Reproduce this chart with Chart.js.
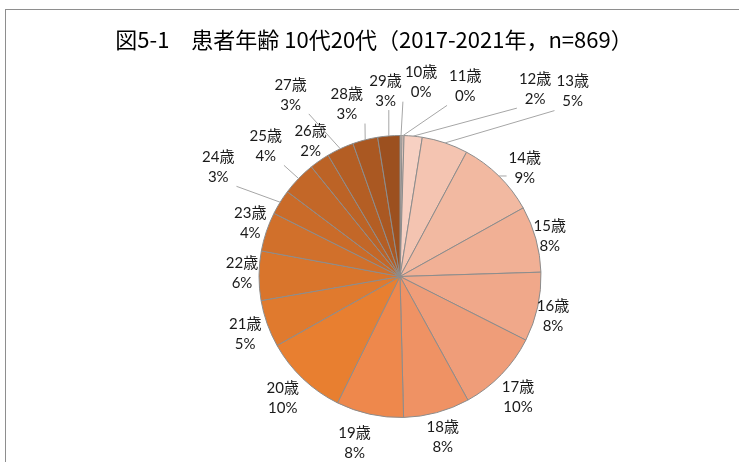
<!DOCTYPE html>
<html lang="ja">
<head>
<meta charset="utf-8">
<title>患者年齢 10代20代</title>
<script src="https://cdn.jsdelivr.net/npm/chart.js@4.4.1/dist/chart.umd.min.js"></script>
<style>
  html, body { margin: 0; padding: 0; background: #fff; }
  #wrap { position: relative; width: 739px; height: 462px; overflow: hidden; }
  #frame { position: absolute; left: 5px; top: 9px; width: 800px; height: 500px; border: 1px solid #8e8e8e; }
  #chartContainer { position: absolute; left: 0; top: 0; }
</style>
</head>
<body>
<div id="wrap">
  <div id="frame"></div>
  <canvas id="chartContainer" width="739" height="462"></canvas>
</div>
<script>
"use strict";

// 1: data
const chartTitle = '図5-1　患者年齢 10代20代（2017-2021年，n=869）';
const ages = ['10歳', '11歳', '12歳', '13歳', '14歳', '15歳', '16歳', '17歳', '18歳', '19歳',
              '20歳', '21歳', '22歳', '23歳', '24歳', '25歳', '26歳', '27歳', '28歳', '29歳'];
const patients = [2, 2, 18, 46, 79, 66, 69, 83, 66, 67,
                  83, 47, 49, 39, 25, 34, 20, 27, 25, 22];

// 2: styles
const sliceColors = ['#fae0d6', '#f8d8cc', '#f7d0c2', '#f4c4b1', '#f2b9a1', '#f1b095', '#f0a88a', '#ef9d79', '#ef9264', '#ee884c',
                     '#e87f30', '#e07a2e', '#d9752c', '#d1702b', '#ca6b29', '#c36728', '#bc6326', '#b45e24', '#aa5822', '#9c501f'];

// label placement: [angle shift (deg), distance outside the pie (px), leader line]
const labelPlacement = [
  [5.8, 54, true], [17.7, 60, true], [30.4, 90, true], [24.4, 112, true], [4.6, 24, true],
  [0.5, 14, false], [1.9, 17, false], [1.7, 28, false], [0.2, 25, false], [2.8, 32, false],
  [0.4, 28, false], [-0.7, 24, false], [0.9, 17, false], [1.1, 18, false], [-0.8, 71, true],
  [0.1, 46, true], [1.3, 21, false], [-6, 71, true], [-2.9, 39, true], [0.1, 45, true]
];

// 3: labels + title
const pieLabels = {
  id: 'pieLabels',
  afterDraw(chart) {
    const ctx = chart.ctx;
    const meta = chart.getDatasetMeta(0);
    const total = patients.reduce((a, b) => a + b, 0);
    ctx.save();

    ctx.font = '22px "Noto Sans CJK JP"';
    ctx.fillStyle = '#000';
    ctx.textAlign = 'center';
    ctx.textBaseline = 'middle';
    ctx.fillText(chartTitle, 374, 40);

    ctx.font = '15px Lato, "Noto Sans CJK JP"';
    meta.data.forEach((arc, i) => {
      const p = arc.getProps(['x', 'y', 'startAngle', 'endAngle', 'outerRadius'], true);
      const mid = (p.startAngle + p.endAngle) / 2;
      const [shift, dist, leader] = labelPlacement[i];
      const a = mid + shift * Math.PI / 180;
      const r = p.outerRadius + dist;
      const lx = p.x + Math.cos(a) * r;
      const ly = p.y + Math.sin(a) * r;
      const line1 = ages[i];
      const line2 = Math.round(patients[i] / total * 100) + '%';
      if (leader) {
        const w = Math.max(ctx.measureText(line1).width, ctx.measureText(line2).width) / 2 + 2;
        const h = 19;
        const ex = p.x + Math.cos(mid) * p.outerRadius;
        const ey = p.y + Math.sin(mid) * p.outerRadius;
        const nx = Math.min(Math.max(ex, lx - w), lx + w);
        const ny = Math.min(Math.max(ey, ly - h), ly + h);
        ctx.strokeStyle = '#a6a6a6';
        ctx.lineWidth = 1;
        ctx.beginPath();
        ctx.moveTo(ex, ey);
        ctx.lineTo(nx, ny);
        ctx.stroke();
      }
      ctx.fillStyle = '#1a1a1a';
      ctx.fillText(line1, lx, ly - 10);
      ctx.fillText(line2, lx, ly + 10);
    });
    ctx.restore();
  }
};

// 4: chart
const chart = new Chart(document.getElementById('chartContainer'), {
  type: 'pie',
  data: {
    labels: ages,
    datasets: [{
      data: patients,
      backgroundColor: sliceColors,
      borderColor: '#8c8c8c',
      borderWidth: 1
    }]
  },
  options: {
    responsive: false,
    animation: false,
    devicePixelRatio: 1,
    layout: { padding: { top: 135, bottom: 44, left: 80, right: 19 } },
    plugins: {
      legend: { display: false },
      title: { display: false },
      tooltip: { enabled: false }
    }
  },
  plugins: [pieLabels]
});
</script>
</body>
</html>
